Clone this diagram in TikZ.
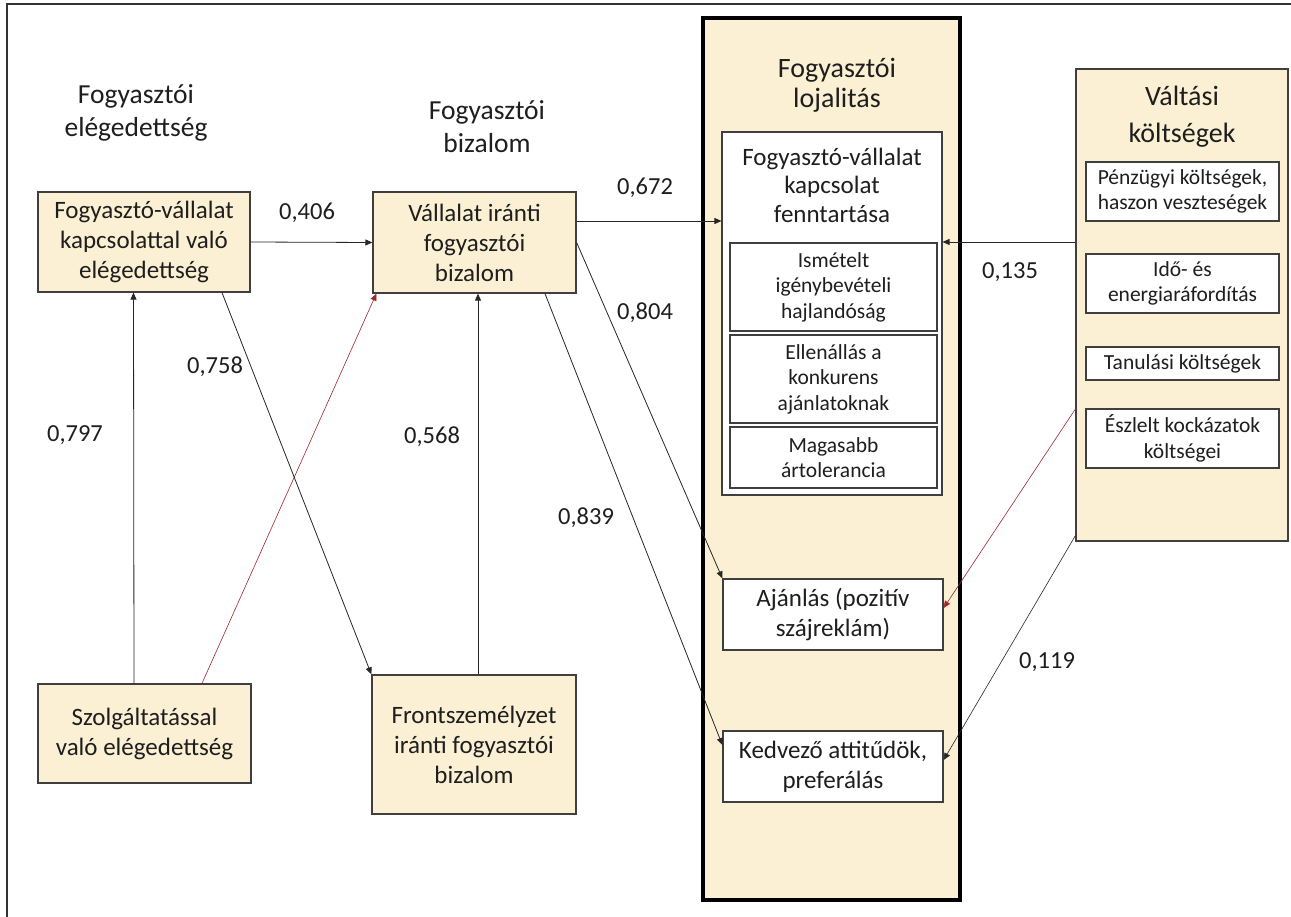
\documentclass[tikz,border=0pt]{standalone}
\usepackage{fontspec}
\setmainfont{Carlito}
\usetikzlibrary{arrows.meta}
\definecolor{beige}{HTML}{FBF0D3}
\definecolor{bord}{HTML}{3F3F3F}
\definecolor{txt}{HTML}{1E1E1E}
\definecolor{redl}{HTML}{A02828}
\begin{document}
\begin{tikzpicture}[x=1pt,y=-1pt,
  box/.style={draw=bord, line width=1.3pt, fill=beige, inner sep=0pt, align=center, text=txt, font=\fontsize{25}{30}\selectfont},
  wbox/.style={box, fill=white},
  sbox/.style={draw=bord, line width=1.1pt, fill=white, inner sep=0pt, align=center, text=txt, font=\fontsize{21.5}{25.5}\selectfont},
  head/.style={align=center, text=txt, inner sep=0pt, font=\fontsize{27.5}{33}\selectfont},
  lab/.style={text=txt, inner sep=0pt, font=\fontsize{24.5}{28}\selectfont},
  conn/.style={draw=black!85, line width=0.8pt, -{Triangle[length=7pt,width=6pt]}},
  rconn/.style={draw=redl, line width=0.6pt, -{Triangle[length=7pt,width=6pt]}},
]
\useasboundingbox (0,0) rectangle (1291,917);
\fill[white] (0,0) rectangle (1291,917);
\draw[line width=1.3pt, black!80] (1291,4) -- (7,4) -- (7,917);

% headings
\node[head] (h1) at (136,113) {Fogyasztói\\elégedettség};
\node[head] (h2) at (487,127) {Fogyasztói\\bizalom};

% left boxes
\node[box, minimum width=212pt, minimum height=100pt] (A) at (144,242) {Fogyasztó-vállalat\\kapcsolattal való\\elégedettség};
\node[box, minimum width=203pt, minimum height=101pt] (B) at (474.5,242.5) {Vállalat iránti\\fogyasztói\\bizalom};
\node[box, minimum width=213pt, minimum height=99pt] (C) at (144.5,733.5) {Szolgáltatással\\való elégedettség};
\node[box, minimum width=204pt, minimum height=139pt] (D) at (474,744.5) {Frontszemélyzet\\iránti fogyasztói\\bizalom};

% loyalty
\node[draw=black, line width=4pt, fill=beige, minimum width=257pt, minimum height=882pt, inner sep=0pt] (L) at (831.5,459) {};
\node[head, font=\fontsize{28}{30}\selectfont] (Lh) at (837,85) {Fogyasztói\\lojalitás};
\node[draw=bord, line width=1.1pt, fill=white, minimum width=220pt, minimum height=363pt, inner sep=0pt] (I) at (832,313.5) {};
\node[align=center, text=txt, inner sep=0pt, font=\fontsize{25}{28.5}\selectfont] (It) at (832,185) {Fogyasztó-vállalat\\kapcsolat\\fenntartása};
\node[sbox, minimum width=207pt, minimum height=88pt] (S1) at (833.5,287) {Ismételt\\igénybevételi\\hajlandóság};
\node[sbox, minimum width=207pt, minimum height=88pt] (S2) at (833.5,379) {Ellenállás a\\konkurens\\ajánlatoknak};
\node[sbox, minimum width=207pt, minimum height=61pt] (S3) at (833.5,457.5) {Magasabb\\ártolerancia};
\node[wbox, minimum width=220pt, minimum height=71pt] (Aj) at (833,614.5) {Ajánlás (pozitív\\szájreklám)};
\node[wbox, minimum width=220pt, minimum height=71pt] (Ke) at (833,766.5) {Kedvező attitűdök,\\preferálás};

% switching costs
\node[box, minimum width=212pt, minimum height=472pt] (V) at (1182,305) {};
\node[head, font=\fontsize{28}{37}\selectfont] (Vh) at (1182,116.5) {Váltási\\költségek};
\node[sbox, minimum width=193pt, minimum height=59pt] (V1) at (1182.5,191.5) {Pénzügyi költségek,\\haszon veszteségek};
\node[sbox, minimum width=193pt, minimum height=59pt] (V2) at (1182.5,283.5) {Idő- és\\energiaráfordítás};
\node[sbox, minimum width=193pt, minimum height=33pt] (V3) at (1182.5,363.5) {Tanulási költségek};
\node[sbox, minimum width=193pt, minimum height=59pt] (V4) at (1182.5,438.5) {Észlelt kockázatok\\költségei};

% connectors
\draw[conn] (A.east) -- (B.west);
\draw[conn] ([xshift=-10.5pt]C.north) -- ([xshift=-10.5pt]A.south);
\draw[rconn] ([xshift=57.5pt]C.north) -- ([xshift=4pt]B.south west);
\draw[conn] ([xshift=78pt]A.south) -- (D.north west);
\draw[conn] ([xshift=4pt]D.north) -- ([xshift=3.5pt]B.south);
\draw[conn] ([yshift=21.5pt]B.east) -- ([yshift=21.5pt]B.east -| I.west);
\draw[conn] (B.east) -- (Aj.north west);
\draw[conn] ([xshift=70.5pt]B.south) -- ([yshift=21.5pt]Ke.west);
\draw[conn] ([yshift=63pt]V.west) -- ([yshift=63pt]V.west -| I.east);
\draw[rconn] ([yshift=-104pt]V.west) -- ([yshift=6.5pt]Aj.east);
\draw[conn, line width=0.6pt] ([yshift=6pt]V.south west) -- ([yshift=6.5pt]Ke.east);

% labels
\node[lab] (l406) at (307,213) {0,406};
\node[lab] (l672) at (645,188) {0,672};
\node[lab] (l804) at (645,313) {0,804};
\node[lab] (l758) at (215,367) {0,758};
\node[lab] (l797) at (75,435) {0,797};
\node[lab] (l568) at (432,437) {0,568};
\node[lab] (l839) at (586,518) {0,839};
\node[lab] (l135) at (1010,272) {0,135};
\node[lab] (l119) at (1047,662) {0,119};
\end{tikzpicture}
\end{document}
